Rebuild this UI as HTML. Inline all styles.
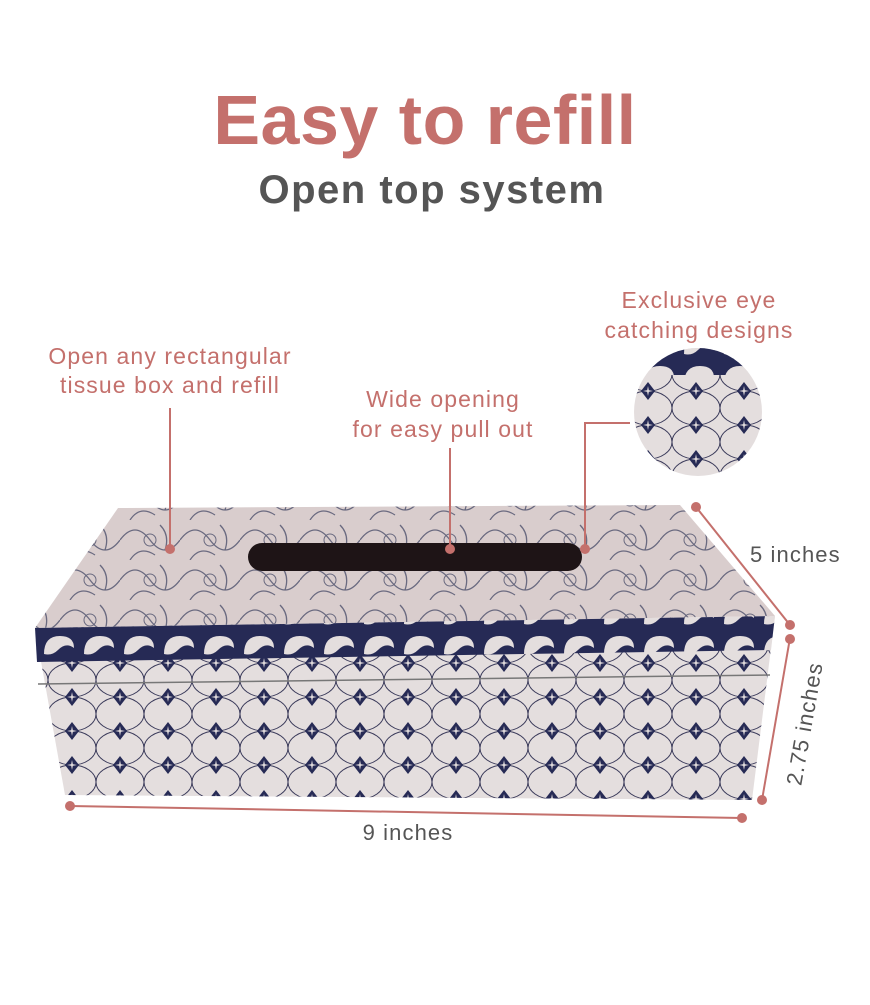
<!DOCTYPE html>
<html><head><meta charset="utf-8"><style>
html,body{margin:0;padding:0;background:#fff;}
body{width:870px;height:1000px;overflow:hidden;position:relative;font-family:"Liberation Sans",sans-serif;}
</style></head><body>
<svg width="870" height="1000" viewBox="0 0 870 1000" xmlns="http://www.w3.org/2000/svg">
<defs>
<pattern id="circ" x="0" y="0" width="48" height="34" patternUnits="userSpaceOnUse">
<rect width="48" height="34" fill="#262a55"/>
<ellipse cx="0" cy="17" rx="24" ry="17" fill="#e4dede" stroke="#3a3a5a" stroke-width="1"/>
<ellipse cx="48" cy="17" rx="24" ry="17" fill="#e4dede" stroke="#3a3a5a" stroke-width="1"/>
<ellipse cx="24" cy="0" rx="24" ry="17" fill="#e4dede" stroke="#3a3a5a" stroke-width="1"/>
<ellipse cx="24" cy="34" rx="24" ry="17" fill="#e4dede" stroke="#3a3a5a" stroke-width="1"/>
<path d="M24 8 L31 17 L24 26 L17 17Z" fill="#262a55"/>
<path d="M24 12 L25 17 L24 22 L23 17Z M19 17 L24 16 L29 17 L24 18Z" fill="#e4dede"/>
</pattern>
<pattern id="flor" x="0" y="0" width="60" height="40" patternUnits="userSpaceOnUse">
<rect width="60" height="40" fill="#d9cdcd"/>
<path d="M0 20 Q15 0 30 20 T60 20 M10 40 Q20 25 35 35 M40 5 Q50 15 45 30" fill="none" stroke="#6a6a80" stroke-width="1.3"/>
<circle cx="30" cy="20" r="6" fill="none" stroke="#6a6a80" stroke-width="1"/>
</pattern>
<pattern id="band" x="0" y="0" width="40" height="30" patternUnits="userSpaceOnUse">
<rect width="40" height="30" fill="#262a55"/>
<path d="M4 24 Q4 6 20 6 Q34 6 34 18 Q26 12 18 20 Q12 26 4 24Z" fill="#e4dede"/>
</pattern>
<clipPath id="cc"><circle cx="698" cy="412" r="64"/></clipPath>
</defs>

<text x="425" y="144" text-anchor="middle" font-size="70" font-weight="bold" letter-spacing="0.5" fill="#c4706c">Easy to refill</text>
<text x="432" y="203" text-anchor="middle" font-size="40" font-weight="bold" letter-spacing="1.5" fill="#555">Open top system</text>

<g font-size="23" fill="#c4706c" text-anchor="middle" letter-spacing="1.1">
<text x="170" y="364">Open any rectangular</text>
<text x="170" y="393">tissue box and refill</text>
<text x="443" y="407">Wide opening</text>
<text x="443" y="437">for easy pull out</text>
<text x="699" y="308">Exclusive eye</text>
<text x="699" y="338">catching designs</text>
</g>

<polygon points="118,508 680,505 775,616 35,628" fill="url(#flor)"/>
<polygon points="35,628 775,616 752,800 65,795" fill="url(#circ)"/>
<polygon points="35,628 775,616 771,650 37,662" fill="url(#band)"/>
<line x1="38" y1="684" x2="770" y2="675" stroke="#777" stroke-width="1.5"/>
<rect x="248" y="543" width="334" height="28" rx="14" fill="#1e1416"/>

<g clip-path="url(#cc)">
<rect x="630" y="345" width="140" height="140" fill="url(#circ)"/>
<rect x="630" y="345" width="140" height="30" fill="url(#band)"/>
</g>

<g stroke="#c4706c" stroke-width="2" fill="none">
<line x1="170" y1="408" x2="170" y2="548"/>
<line x1="450" y1="448" x2="450" y2="548"/>
<polyline points="630,423 585,423 585,548"/>
<line x1="696" y1="507" x2="790" y2="625"/>
<line x1="790" y1="638" x2="762" y2="800"/>
<line x1="70" y1="806" x2="742" y2="818"/>
</g>
<g fill="#c4706c">
<circle cx="170" cy="549" r="5"/><circle cx="450" cy="549" r="5"/><circle cx="585" cy="549" r="5"/>
<circle cx="696" cy="507" r="5"/><circle cx="790" cy="625" r="5"/>
<circle cx="790" cy="639" r="5"/><circle cx="762" cy="800" r="5"/>
<circle cx="70" cy="806" r="5"/><circle cx="742" cy="818" r="5"/>
</g>
<g font-size="22" fill="#555" letter-spacing="1.1">
<text x="750" y="562">5 inches</text>
<text x="408" y="840" text-anchor="middle">9 inches</text>
<text transform="translate(812,725) rotate(-80)" text-anchor="middle">2.75 inches</text>
</g>
</svg>
</body></html>
